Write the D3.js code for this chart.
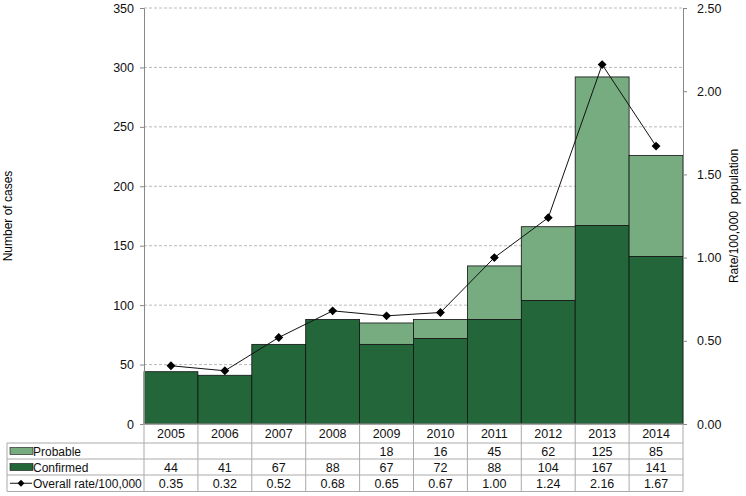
<!DOCTYPE html>
<html>
<head>
<meta charset="utf-8">
<script src="https://cdnjs.cloudflare.com/ajax/libs/d3/7.8.5/d3.min.js"></script>
<style>
body { margin: 0; background: white; }
svg { display: block; font-family: "Liberation Sans", Arial, sans-serif; }
</style>
</head>
<body>
<div id="chart"></div>
<script>
// data
var years = ["2005","2006","2007","2008","2009","2010","2011","2012","2013","2014"];
var confirmed = [44, 41, 67, 88, 67, 72, 88, 104, 167, 141];
var probable = [0, 0, 0, 0, 18, 16, 45, 62, 125, 85];
var probableLabels = ["", "", "", "", "18", "16", "45", "62", "125", "85"];
var rates = [0.35, 0.32, 0.52, 0.68, 0.65, 0.67, 1.00, 1.24, 2.16, 1.67];
var leftTicks = [0, 50, 100, 150, 200, 250, 300, 350];
var rightTicks = [0, 0.5, 1.0, 1.5, 2.0, 2.5];

// setup
var w = 746, h = 496;
var plotLeft = 144, plotRight = 683, plotTop = 8, plotBottom = 424;
var darkGreen = "#23663a", lightGreen = "#77ac80";

var svg = d3.select("#chart").append("svg")
    .attr("width", w).attr("height", h);

var x = d3.scaleBand().domain(years).range([plotLeft, plotRight]).padding(0);
var y = d3.scaleLinear().domain([0, 350]).range([plotBottom, plotTop]);
var y2 = d3.scaleLinear().domain([0, 2.5]).range([plotBottom, plotTop]);

// gridlines
svg.append("g").selectAll("line")
    .data(leftTicks.slice(1))
    .enter().append("line")
    .attr("x1", plotLeft).attr("x2", plotRight)
    .attr("y1", function(d){ return y(d); })
    .attr("y2", function(d){ return y(d); })
    .attr("stroke", "#aaa")
    .attr("stroke-width", 0.8)
    .attr("stroke-dasharray", "3,2");

// bars
var bars = svg.append("g");
bars.selectAll("rect.conf")
    .data(years)
    .enter().append("rect")
    .attr("class", "conf")
    .attr("x", function(d){ return x(d); })
    .attr("width", x.bandwidth())
    .attr("y", function(d, i){ return y(confirmed[i]); })
    .attr("height", function(d, i){ return y(0) - y(confirmed[i]); })
    .attr("fill", darkGreen)
    .attr("stroke", "#111")
    .attr("stroke-width", 0.8);
bars.selectAll("rect.prob")
    .data(years.filter(function(d, i){ return probable[i] > 0; }))
    .enter().append("rect")
    .attr("class", "prob")
    .attr("x", function(d){ return x(d); })
    .attr("width", x.bandwidth())
    .attr("y", function(d){ var i = years.indexOf(d); return y(confirmed[i] + probable[i]); })
    .attr("height", function(d){ var i = years.indexOf(d); return y(confirmed[i]) - y(confirmed[i] + probable[i]); })
    .attr("fill", lightGreen)
    .attr("stroke", "#111")
    .attr("stroke-width", 0.8);

// axes
var yAxis = svg.append("g")
    .attr("transform", "translate(" + plotLeft + ",0)")
    .call(d3.axisLeft(y).tickValues(leftTicks).tickSize(4).tickPadding(6).tickFormat(d3.format("d")));
var y2Axis = svg.append("g")
    .attr("transform", "translate(" + plotRight + ",0)")
    .call(d3.axisRight(y2).tickValues(rightTicks).tickSize(4).tickPadding(10).tickFormat(d3.format(".2f")));
[yAxis, y2Axis].forEach(function(a){
    a.select(".domain").attr("stroke", "#888");
    a.selectAll(".tick line").attr("stroke", "#888");
    a.selectAll("text").attr("font-size", 12.5).attr("fill", "#111")
        .attr("font-family", "'Liberation Sans', Arial, sans-serif");
});

// line
var line = d3.line()
    .x(function(d, i){ return x(years[i]) + x.bandwidth() / 2; })
    .y(function(d){ return y2(d); });
svg.append("path")
    .datum(rates)
    .attr("d", line)
    .attr("fill", "none")
    .attr("stroke", "#111")
    .attr("stroke-width", 1);
svg.append("g").selectAll("path")
    .data(rates)
    .enter().append("path")
    .attr("d", d3.symbol().type(d3.symbolDiamond2).size(50))
    .attr("transform", function(d, i){
        return "translate(" + (x(years[i]) + x.bandwidth() / 2) + "," + y2(d) + ")";
    })
    .attr("fill", "#000");

// axis titles
svg.append("text")
    .attr("transform", "translate(12," + 216 + ") rotate(-90)")
    .attr("text-anchor", "middle")
    .attr("font-size", 12)
    .text("Number of cases");
svg.append("text")
    .attr("transform", "translate(738," + 216 + ") rotate(-90)")
    .attr("text-anchor", "middle")
    .attr("font-size", 12)
    .attr("xml:space", "preserve")
    .text("Rate/100,000  population");

// data table
var rowY = [424, 443, 459, 475, 491.5];
var tableLeft = 7;
var table = svg.append("g");
var grey = "#aaa";
// horizontal lines
table.append("line").attr("x1", plotLeft).attr("x2", plotRight).attr("y1", rowY[0]).attr("y2", rowY[0]).attr("stroke", grey);
for (var r = 1; r < rowY.length; r++) {
    table.append("line").attr("x1", tableLeft).attr("x2", plotRight)
        .attr("y1", rowY[r]).attr("y2", rowY[r]).attr("stroke", grey);
}
// vertical lines
table.append("line").attr("x1", tableLeft).attr("x2", tableLeft).attr("y1", rowY[1]).attr("y2", rowY[4]).attr("stroke", grey);
table.selectAll("line.v")
    .data(years.concat(["end"]))
    .enter().append("line")
    .attr("class", "v")
    .attr("x1", function(d){ return d == "end" ? plotRight : x(d); })
    .attr("x2", function(d){ return d == "end" ? plotRight : x(d); })
    .attr("y1", rowY[0]).attr("y2", rowY[4])
    .attr("stroke", grey);

var rows = [years, probableLabels, confirmed.map(String), rates.map(function(v){ return v.toFixed(2); })];
rows.forEach(function(vals, r){
    table.selectAll("text.r" + r)
        .data(vals)
        .enter().append("text")
        .attr("class", "r" + r)
        .attr("x", function(d, i){ return x(years[i]) + x.bandwidth() / 2; })
        .attr("y", (rowY[r] + rowY[r + 1]) / 2 + 4.5)
        .attr("text-anchor", "middle")
        .attr("font-size", 12.5)
        .attr("fill", "#111")
        .text(function(d){ return d; });
});

// legend column
var legendNames = ["Probable", "Confirmed", "Overall rate/100,000"];
legendNames.forEach(function(name, k){
    var cy = (rowY[k + 1] + rowY[k + 2]) / 2;
    if (k < 2) {
        table.append("rect")
            .attr("x", 10).attr("y", cy - 3.5)
            .attr("width", 23).attr("height", 7)
            .attr("fill", k == 0 ? lightGreen : darkGreen)
            .attr("stroke", "#111").attr("stroke-width", 0.6);
    } else {
        table.append("line").attr("x1", 10).attr("x2", 32).attr("y1", cy).attr("y2", cy)
            .attr("stroke", "#111");
        table.append("path")
            .attr("d", d3.symbol().type(d3.symbolDiamond2).size(30))
            .attr("transform", "translate(21," + cy + ")")
            .attr("fill", "#000");
    }
    table.append("text")
        .attr("x", 33).attr("y", cy + 4.5)
        .attr("font-size", 12)
        .attr("fill", "#111")
        .text(name);
});
</script>
</body>
</html>
